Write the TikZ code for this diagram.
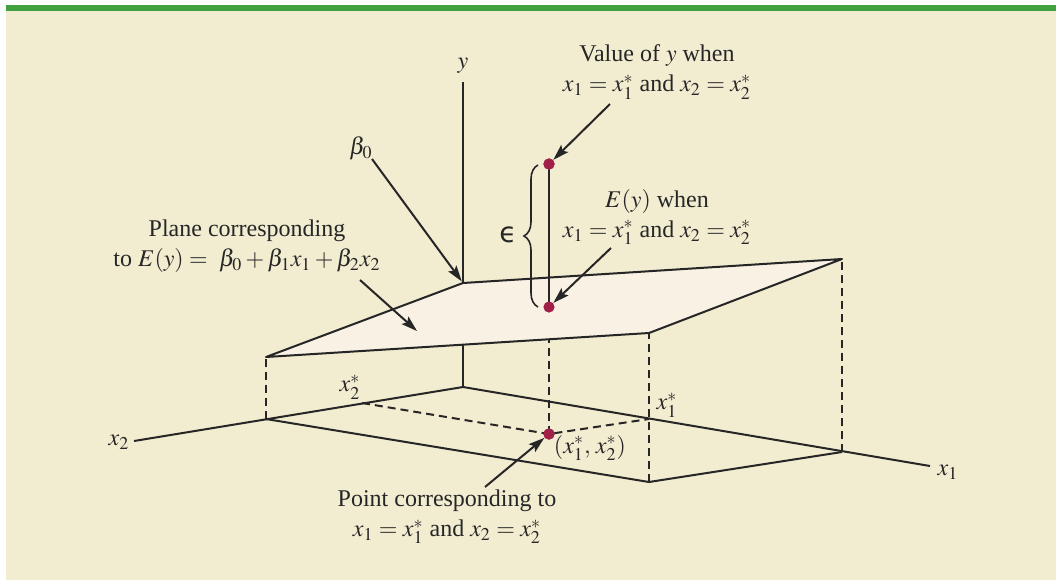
\documentclass[tikz,border=0pt]{standalone}
\usepackage{mathptmx}
\usepackage{fontspec}
\setmainfont{Liberation Serif}
\newfontfamily\epsfont{DejaVu Sans}
\usetikzlibrary{arrows.meta,decorations.pathreplacing}
\definecolor{bgcolor}{RGB}{242,236,209}
\definecolor{barcolor}{RGB}{65,161,63}
\definecolor{planecolor}{RGB}{249,241,227}
\definecolor{dotcolor}{RGB}{160,32,72}

\begin{document}
\begin{tikzpicture}[x=0.5pt,y=-0.5pt,
  every node/.style={font=\fontsize{12}{15}\selectfont, inner sep=0pt, text=black!85},
  edge/.style={line width=1pt, black!85, line join=round},
  hidden/.style={line width=1pt, black!85, dash pattern=on 4pt off 2.5pt},
  pointer/.style={line width=1pt, black!85, -{Stealth[length=8pt,width=5pt,inset=1.5pt]}},
  dot/.style={circle, fill=dotcolor, minimum size=5.6pt, inner sep=0pt}]

% Background
\fill[white] (0,0) rectangle (1056,580);
\fill[bgcolor] (6,11) rectangle (1056,580);
\fill[barcolor] (6,5) rectangle (1056,11);
\useasboundingbox (0,0) rectangle (1056,580);

% Floor and plane corners
\coordinate (O) at (463,387);
\coordinate (A) at (266,419);
\coordinate (B) at (842,452);
\coordinate (C) at (649,482);
\coordinate (Ot) at (463,283);
\coordinate (At) at (266,357);
\coordinate (Bt) at (842,259);
\coordinate (Ct) at (649,333);

% Axis ends and ticks
\coordinate (yend) at (463,82);
\coordinate (x1end) at (930,466);
\coordinate (x2end) at (134,441);
\coordinate (x1s) at (649,419);
\coordinate (x2s) at (362,403);

% Axes and floor
\draw[edge] (O) -- (yend);
\draw[edge] (x2end) -- (O) -- (x1end);
\draw[edge] (A) -- (C) -- (B);

% Vertical drops
\draw[hidden] (A) -- (At);
\draw[hidden] (C) -- (Ct);
\draw[hidden] (B) -- (Bt);

% Point (x1*, x2*)
\node[dot] (pt) at (549,434) {};
\node[dot] (ey) at (549,307) {};
\draw[hidden] (x2s) -- (pt.center) -- (x1s);
\draw[hidden] (pt.center) -- (ey.center);
\node[dot] at (pt) {};

% Plane
\draw[edge, fill=planecolor] (At) -- (Ot) -- (Bt) -- (Ct) -- cycle;

% Observed value
\node[dot] (yval) at (549,164) {};
\draw[edge] (ey.center) -- (yval.center);
\node[dot] at (ey) {};
\node[dot] at (yval) {};
\draw[line width=0.8pt, black!85, decorate, decoration={brace, amplitude=7pt}] (538,307) -- (538,165);
\node[font=\epsfont\fontsize{14}{16}\selectfont] (epslab) at (508,235) {ϵ};

% Labels
\node (ylab) at (463,66) {$y$};
\node (x1lab) at (948,472) {$x_1$};
\node (x2lab) at (119,442) {$x_2$};
\node (x1slab) at (667,405) {$x_1^*$};
\node (x2slab) at (350,387) {$x_2^*$};
\node (ptlab) at (590,448) {$(x_1^*,\, x_2^*)$};
\node (b0lab) at (361,148) {$\beta_0$};

\node[align=center] (valtxt) at (657,72) {Value of $y$ when\\$x_1 = x_1^*$ and $x_2 = x_2^*$};
\node[align=center] (eytxt) at (657,217) {$E(y)$ when\\$x_1 = x_1^*$ and $x_2 = x_2^*$};
\node[align=center] (planetxt) at (247,246) {Plane corresponding\\to $E(y) = \ \beta_0 + \beta_1x_1 + \beta_2x_2$};
\node[align=center] (pttxt) at (447,517) {Point corresponding to\\$x_1 = x_1^*$ and $x_2 = x_2^*$};

% Arrows
\coordinate (valtail) at (610,104);
\coordinate (eytail) at (611,248);
\coordinate (b0tail) at (372,159);
\coordinate (planetail) at (360,280);
\coordinate (planetip) at (417,331);
\coordinate (pttail) at (485,487);
\draw[pointer] (valtail) -- (yval);
\draw[pointer] (eytail) -- (ey);
\draw[pointer, shorten >=1pt] (b0tail) -- (Ot);
\draw[pointer] (planetail) -- (planetip);
\draw[pointer] (pttail) -- (pt);

\end{tikzpicture}
\end{document}
